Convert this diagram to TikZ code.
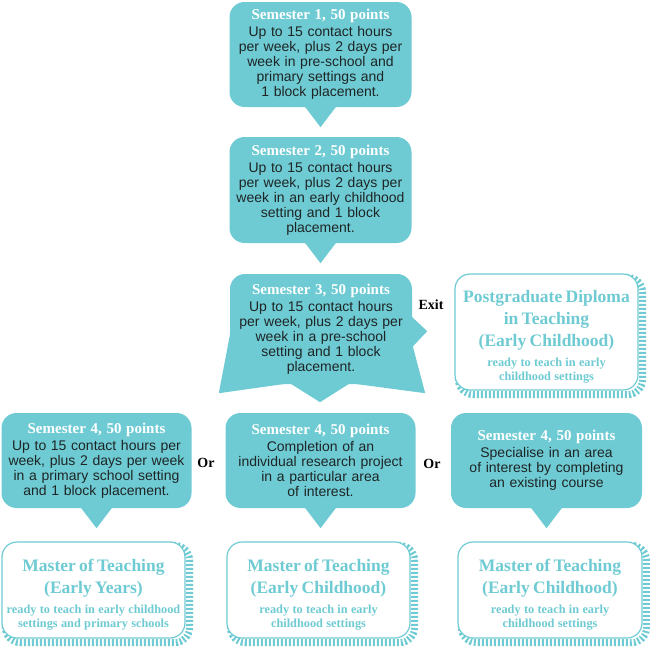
\documentclass[tikz,border=0pt]{standalone}
\usepackage{fontspec}
\setmainfont{Liberation Sans}
\newfontfamily\titlefont{Liberation Serif}
\usetikzlibrary{calc,backgrounds}
\definecolor{teal1}{HTML}{6FCBD3}
\definecolor{ink}{HTML}{1E2526}
\tikzset{
  bubble/.style={fill=teal1, rounded corners=15pt, minimum height=105pt, align=center,
    text=ink, font=\fontsize{14}{15}\selectfont, inner xsep=1pt, inner ysep=0pt},
  result/.style={draw=teal1, line width=1.2pt, fill=white, rounded corners=15pt,
    minimum height=96pt, align=center, text=teal1, inner xsep=1pt, inner ysep=0pt,
    font=\titlefont\bfseries},
  hatch/.style={draw=teal1, line width=7pt, dash pattern=on 2pt off 2pt, rounded corners=15pt},
  lab/.style={font=\titlefont\bfseries\fontsize{14}{15}\selectfont, text=black},
  pointer/.style={fill=teal1},
}
\newcommand{\semtitle}[1]{{\titlefont\bfseries\fontsize{15}{17}\selectfont\textcolor{white}{#1}}}
\newcommand{\restitle}[1]{{\fontsize{17.5}{22}\selectfont\rule{0pt}{22pt}#1\par}\vspace{5pt}}
\newcommand{\ressub}[1]{{\fontsize{12.3}{14.5}\selectfont #1\par}}
\begin{document}
\begin{tikzpicture}[x=1pt,y=-1pt]
\useasboundingbox (0,0) rectangle (650,651);

% semester bubbles
\node[bubble, text width=180pt] (s1) at (320.5,54.5)
  {\semtitle{Semester 1, 50 points}\\[2pt]Up to 15 contact hours\\per week, plus 2 days per\\week in pre-school and\\primary settings and\\1 block placement.};
\node[bubble, text width=180pt, minimum height=106pt] (s2) at (320.5,190)
  {\semtitle{Semester 2, 50 points}\\[2pt]Up to 15 contact hours\\per week, plus 2 days per\\week in an early childhood\\setting and 1 block\\placement.};
\node[bubble, text width=180pt, minimum height=110pt] (s3) at (321,329)
  {\semtitle{Semester 3, 50 points}\\[2pt]Up to 15 contact hours\\per week, plus 2 days per\\week in a pre-school\\setting and 1 block\\placement.};
\node[bubble, text width=188pt, minimum height=95pt] (s4a) at (96.5,460.5)
  {\semtitle{Semester 4, 50 points}\\[2pt]Up to 15 contact hours per\\week, plus 2 days per week\\in a primary school setting\\and 1 block placement.};
\node[bubble, text width=188pt, minimum height=95pt] (s4b) at (320.5,460.5)
  {\semtitle{Semester 4, 50 points}\\[2pt]Completion of an\\individual research project\\in a particular area\\of interest.};
\node[bubble, text width=189pt, minimum height=95pt] (s4c) at (546.5,460.5)
  {\semtitle{Semester 4, 50 points}\\[2pt]Specialise in an area\\of interest by completing\\an existing course};

% result boxes
\node[result, text width=181pt, minimum height=116pt] (pgd) at (546.5,332)
  {\restitle{Postgraduate Diploma\\in Teaching\\(Early Childhood)}\ressub{ready to teach in early\\childhood settings}};
\node[result, text width=181pt] (r1) at (93.5,590)
  {\restitle{Master of Teaching\\(Early Years)}\ressub{ready to teach in early childhood\\settings and primary schools}};
\node[result, text width=181pt] (r2) at (318.5,590)
  {\restitle{Master of Teaching\\(Early Childhood)}\ressub{ready to teach in early\\childhood settings}};
\node[result, text width=182pt] (r3) at (550,590)
  {\restitle{Master of Teaching\\(Early Childhood)}\ressub{ready to teach in early\\childhood settings}};

\begin{scope}[on background layer]
% pointers
\foreach \n in {s1,s2,s4a,s4b,s4c}{
  \fill[pointer] ($(\n.south)+(-16,-1)$) -- ($(\n.south)+(16,-1)$) -- ($(\n.south)+(0,20)$) -- cycle;
}
% semester 3 flares and exit pointer
\fill[pointer] ($(s3.south west)+(1,-54)$) -- ($(s3.south west)+(-11,9)$) -- ($(s3.south west)+(60,-1)$)
  -- ($(s3.south)+(-1,18)$) -- ($(s3.south)+(29,-1)$) -- ($(s3.south east)+(13,9)$)
  -- ($(s3.south east)+(-1,-44)$) -- cycle;
\fill[pointer] ($(s3.south east)+(-1,-68)$) -- ($(s3.south east)+(15,-53)$) -- ($(s3.south east)+(-1,-36)$) -- cycle;
% hatched shadows
\foreach \n in {pgd,r1,r2,r3}{
  \draw[hatch] ($(\n.south west)+(4,4)$) rectangle ($(\n.north east)+(4,4)$);
}
\end{scope}

% labels
\node[lab] (exit) at (431,305) {Exit};
\node[lab] (or1) at (206,463) {Or};
\node[lab] (or2) at (432,464) {Or};
\end{tikzpicture}
\end{document}
